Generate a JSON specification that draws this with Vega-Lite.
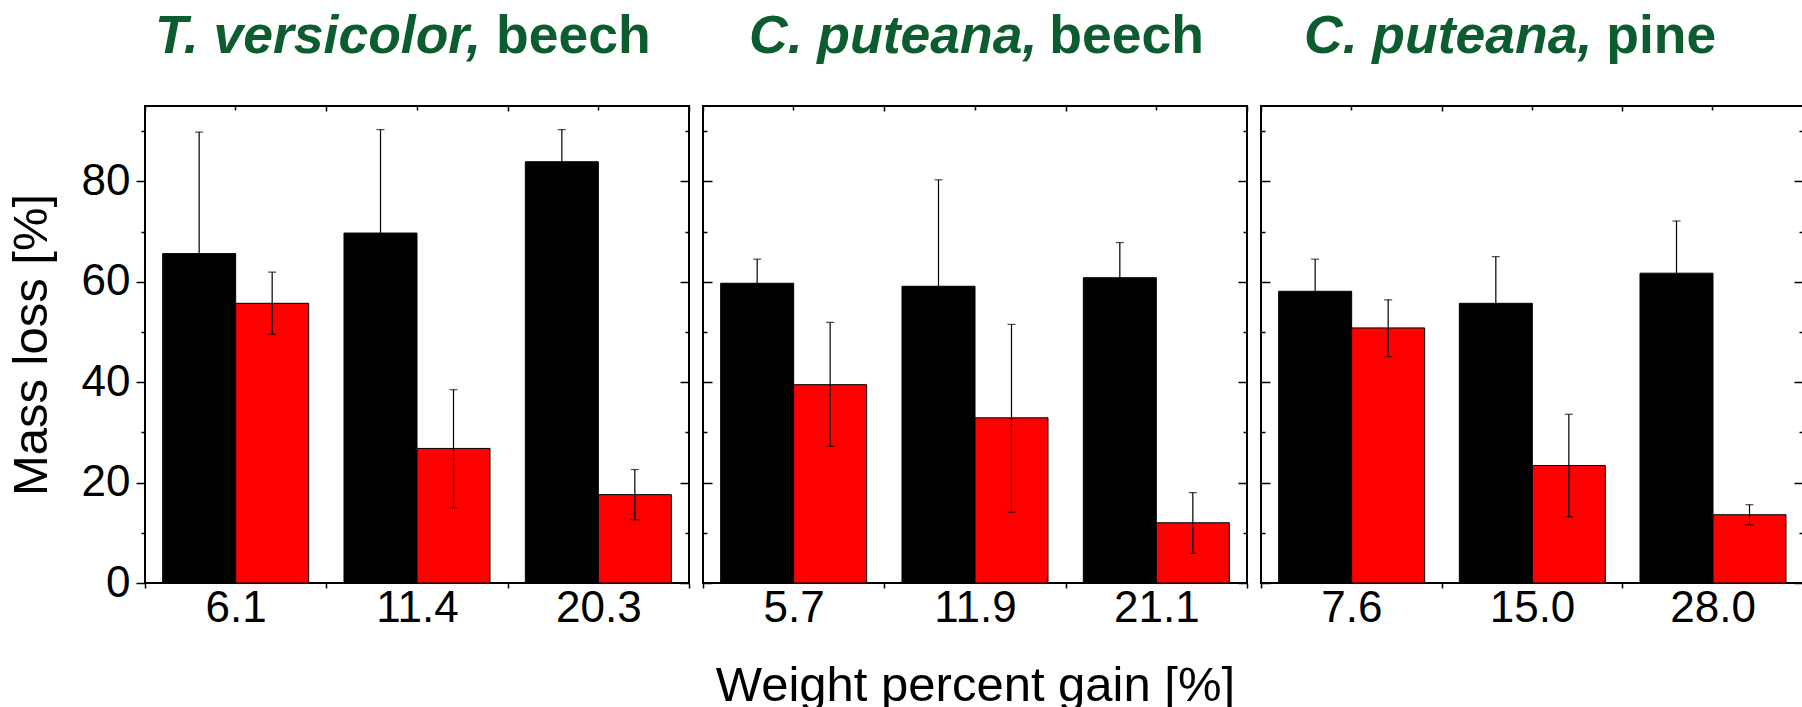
{
  "$schema": "https://vega.github.io/schema/vega-lite/v6.json",
  "padding": {"left": 6, "top": 8, "right": -1, "bottom": -4},
  "background": "white",
  "datasets": {
    "tv_beech": [
      {"wpg": "6.1", "sample": "control", "mass_loss": 65.6, "lo": 41.4, "hi": 89.8},
      {"wpg": "6.1", "sample": "treated", "mass_loss": 55.7, "lo": 49.5, "hi": 61.9},
      {"wpg": "11.4", "sample": "control", "mass_loss": 69.7, "lo": 49.1, "hi": 90.3},
      {"wpg": "11.4", "sample": "treated", "mass_loss": 26.8, "lo": 15.0, "hi": 38.5},
      {"wpg": "20.3", "sample": "control", "mass_loss": 83.9, "lo": 77.5, "hi": 90.3},
      {"wpg": "20.3", "sample": "treated", "mass_loss": 17.6, "lo": 12.6, "hi": 22.6}
    ],
    "cp_beech": [
      {"wpg": "5.7", "sample": "control", "mass_loss": 59.7, "lo": 54.9, "hi": 64.5},
      {"wpg": "5.7", "sample": "treated", "mass_loss": 39.5, "lo": 27.2, "hi": 51.9},
      {"wpg": "11.9", "sample": "control", "mass_loss": 59.1, "lo": 37.9, "hi": 80.3},
      {"wpg": "11.9", "sample": "treated", "mass_loss": 32.9, "lo": 14.1, "hi": 51.5},
      {"wpg": "21.1", "sample": "control", "mass_loss": 60.8, "lo": 53.8, "hi": 67.8},
      {"wpg": "21.1", "sample": "treated", "mass_loss": 12.0, "lo": 5.9, "hi": 18.0}
    ],
    "cp_pine": [
      {"wpg": "7.6", "sample": "control", "mass_loss": 58.1, "lo": 51.7, "hi": 64.5},
      {"wpg": "7.6", "sample": "treated", "mass_loss": 50.8, "lo": 45.1, "hi": 56.4},
      {"wpg": "15.0", "sample": "control", "mass_loss": 55.7, "lo": 46.4, "hi": 65.0},
      {"wpg": "15.0", "sample": "treated", "mass_loss": 23.4, "lo": 13.2, "hi": 33.6},
      {"wpg": "28.0", "sample": "control", "mass_loss": 61.7, "lo": 51.3, "hi": 72.1},
      {"wpg": "28.0", "sample": "treated", "mass_loss": 13.6, "lo": 11.6, "hi": 15.6}
    ]
  },
  "config": {
    "font": "Liberation Sans",
    "view": {"stroke": "#000000", "strokeWidth": 2},
    "concat": {"spacing": 10},
    "axis": {
      "labelColor": "#000000",
      "tickColor": "#000000",
      "titleColor": "#000000",
      "labelFont": "Liberation Sans",
      "titleFont": "Liberation Sans",
      "titleFontWeight": "normal",
      "titleFontSize": 49,
      "labelFontSize": 44,
      "tickWidth": 1.5,
      "domain": false,
      "grid": false,
      "minExtent": 0
    },
    "axisX": {"minExtent": 0},
    "axisY": {"minExtent": 0},
    "title": {"color": "#0b5c2e", "fontSize": 53.5, "fontWeight": "bold", "font": "Liberation Sans", "anchor": "start"}
  },
  "hconcat": [
    {
      "title": {"text": "beech", "dx": 490, "dy": 60, "fontStyle": "normal"},
      "hconcat": [
        {
          "title": {"text": "T. versicolor,", "dx": 10, "offset": 41, "frame": "group", "fontStyle": "italic"},
          "data": {"name": "tv_beech"},
          "width": 544,
          "height": 477,
          "layer": [
            {
              "mark": {"type": "bar", "stroke": "#000000", "strokeWidth": 1},
              "encoding": {
                "x": {"field": "wpg", "type": "ordinal", "sort": null,
                      "scale": {"paddingInner": 0, "paddingOuter": 0},
                      "axis": {"orient": "bottom", "title": null, "labelAngle": 0, "tickBand": "extent", "tickSize": 5, "labelPadding": -2}},
                "xOffset": {"field": "sample", "type": "nominal", "sort": ["control", "treated"],
                            "scale": {"paddingInner": 0, "paddingOuter": 0.242}},
                "y": {"field": "mass_loss", "type": "quantitative",
                      "scale": {"domain": [0, 95], "nice": false},
                      "axis": {"orient": "left", "title": "Mass loss [%]", "titlePadding": 25,
                               "values": [0, 10, 20, 30, 40, 50, 60, 70, 80, 90],
                               "labelExpr": "datum.value % 20 === 0 ? datum.label : ''",
                               "tickSize": {"condition": {"test": "datum.value % 20 === 0", "value": 9}, "value": 4},
                               "labelPadding": 6}},
                "color": {"field": "sample", "type": "nominal",
                          "scale": {"domain": ["control", "treated"], "range": ["#000000", "#ff0000"]},
                          "legend": null}
              }
            },
            {
              "mark": {"type": "rule", "color": "#000000", "strokeWidth": 1.2},
              "encoding": {
                "x": {"field": "wpg", "type": "ordinal", "sort": null,
                      "axis": {"orient": "top", "title": null, "labels": false, "tickBand": "extent", "tickSize": -5}},
                "xOffset": {"field": "sample", "type": "nominal", "sort": ["control", "treated"]},
                "y": {"field": "lo", "type": "quantitative",
                      "axis": {"orient": "right", "title": null, "labels": false,
                               "values": [0, 10, 20, 30, 40, 50, 60, 70, 80, 90],
                               "tickSize": {"condition": {"test": "datum.value % 20 === 0", "value": -9}, "value": -4}}},
                "y2": {"field": "hi"}
              }
            },
            {
              "mark": {"type": "tick", "color": "#000000", "size": 8, "thickness": 1.2},
              "encoding": {
                "x": {"field": "wpg", "type": "ordinal", "sort": null,
                      "axis": {"orient": "top", "title": null, "labels": false, "tickBand": "center", "tickSize": -4}},
                "xOffset": {"field": "sample", "type": "nominal", "sort": ["control", "treated"]},
                "y": {"field": "lo", "type": "quantitative", "axis": null}
              }
            },
            {
              "mark": {"type": "tick", "color": "#000000", "size": 8, "thickness": 1.2},
              "encoding": {
                "x": {"field": "wpg", "type": "ordinal", "sort": null, "axis": null},
                "xOffset": {"field": "sample", "type": "nominal", "sort": ["control", "treated"]},
                "y": {"field": "hi", "type": "quantitative", "axis": null}
              }
            }
          ],
          "resolve": {"axis": {"x": "independent", "y": "independent"}}
        }
      ]
    },
    {
      "title": {"text": "beech", "dx": 348, "dy": 60, "fontStyle": "normal"},
      "hconcat": [
        {
          "title": {"text": "C. puteana,", "dx": 46, "offset": 41, "frame": "group", "fontStyle": "italic"},
          "data": {"name": "cp_beech"},
          "width": 544,
          "height": 477,
          "layer": [
            {
              "mark": {"type": "bar", "stroke": "#000000", "strokeWidth": 1},
              "encoding": {
                "x": {"field": "wpg", "type": "ordinal", "sort": null,
                      "scale": {"paddingInner": 0, "paddingOuter": 0},
                      "axis": {"orient": "bottom", "title": "Weight percent gain [%]", "titlePadding": 31, "labelAngle": 0, "tickBand": "extent", "tickSize": 5, "labelPadding": -2}},
                "xOffset": {"field": "sample", "type": "nominal", "sort": ["control", "treated"],
                            "scale": {"paddingInner": 0, "paddingOuter": 0.242}},
                "y": {"field": "mass_loss", "type": "quantitative",
                      "scale": {"domain": [0, 95], "nice": false},
                      "axis": {"orient": "left", "title": null, "labels": false,
                               "values": [0, 10, 20, 30, 40, 50, 60, 70, 80, 90],
                               "tickSize": {"condition": {"test": "datum.value % 20 === 0", "value": -9}, "value": -4}}},
                "color": {"field": "sample", "type": "nominal",
                          "scale": {"domain": ["control", "treated"], "range": ["#000000", "#ff0000"]},
                          "legend": null}
              }
            },
            {
              "mark": {"type": "rule", "color": "#000000", "strokeWidth": 1.2},
              "encoding": {
                "x": {"field": "wpg", "type": "ordinal", "sort": null,
                      "axis": {"orient": "top", "title": null, "labels": false, "tickBand": "extent", "tickSize": -5}},
                "xOffset": {"field": "sample", "type": "nominal", "sort": ["control", "treated"]},
                "y": {"field": "lo", "type": "quantitative",
                      "axis": {"orient": "right", "title": null, "labels": false,
                               "values": [0, 10, 20, 30, 40, 50, 60, 70, 80, 90],
                               "tickSize": {"condition": {"test": "datum.value % 20 === 0", "value": -9}, "value": -4}}},
                "y2": {"field": "hi"}
              }
            },
            {
              "mark": {"type": "tick", "color": "#000000", "size": 8, "thickness": 1.2},
              "encoding": {
                "x": {"field": "wpg", "type": "ordinal", "sort": null,
                      "axis": {"orient": "top", "title": null, "labels": false, "tickBand": "center", "tickSize": -4}},
                "xOffset": {"field": "sample", "type": "nominal", "sort": ["control", "treated"]},
                "y": {"field": "lo", "type": "quantitative", "axis": null}
              }
            },
            {
              "mark": {"type": "tick", "color": "#000000", "size": 8, "thickness": 1.2},
              "encoding": {
                "x": {"field": "wpg", "type": "ordinal", "sort": null, "axis": null},
                "xOffset": {"field": "sample", "type": "nominal", "sort": ["control", "treated"]},
                "y": {"field": "hi", "type": "quantitative", "axis": null}
              }
            }
          ],
          "resolve": {"axis": {"x": "independent", "y": "independent"}}
        }
      ]
    },
    {
      "title": {"text": "pine", "dx": 347, "dy": 60, "fontStyle": "normal"},
      "hconcat": [
        {
          "title": {"text": "C. puteana,", "dx": 43, "offset": 41, "frame": "group", "fontStyle": "italic"},
          "data": {"name": "cp_pine"},
          "width": 542,
          "height": 477,
          "layer": [
            {
              "mark": {"type": "bar", "stroke": "#000000", "strokeWidth": 1},
              "encoding": {
                "x": {"field": "wpg", "type": "ordinal", "sort": null,
                      "scale": {"paddingInner": 0, "paddingOuter": 0},
                      "axis": {"orient": "bottom", "title": null, "labelAngle": 0, "tickBand": "extent", "tickSize": 5, "labelPadding": -2}},
                "xOffset": {"field": "sample", "type": "nominal", "sort": ["control", "treated"],
                            "scale": {"paddingInner": 0, "paddingOuter": 0.242}},
                "y": {"field": "mass_loss", "type": "quantitative",
                      "scale": {"domain": [0, 95], "nice": false},
                      "axis": {"orient": "left", "title": null, "labels": false,
                               "values": [0, 10, 20, 30, 40, 50, 60, 70, 80, 90],
                               "tickSize": {"condition": {"test": "datum.value % 20 === 0", "value": -9}, "value": -4}}},
                "color": {"field": "sample", "type": "nominal",
                          "scale": {"domain": ["control", "treated"], "range": ["#000000", "#ff0000"]},
                          "legend": null}
              }
            },
            {
              "mark": {"type": "rule", "color": "#000000", "strokeWidth": 1.2},
              "encoding": {
                "x": {"field": "wpg", "type": "ordinal", "sort": null,
                      "axis": {"orient": "top", "title": null, "labels": false, "tickBand": "extent", "tickSize": -5}},
                "xOffset": {"field": "sample", "type": "nominal", "sort": ["control", "treated"]},
                "y": {"field": "lo", "type": "quantitative",
                      "axis": {"orient": "right", "title": null, "labels": false,
                               "values": [0, 10, 20, 30, 40, 50, 60, 70, 80, 90],
                               "tickSize": {"condition": {"test": "datum.value % 20 === 0", "value": -9}, "value": -4}}},
                "y2": {"field": "hi"}
              }
            },
            {
              "mark": {"type": "tick", "color": "#000000", "size": 8, "thickness": 1.2},
              "encoding": {
                "x": {"field": "wpg", "type": "ordinal", "sort": null,
                      "axis": {"orient": "top", "title": null, "labels": false, "tickBand": "center", "tickSize": -4}},
                "xOffset": {"field": "sample", "type": "nominal", "sort": ["control", "treated"]},
                "y": {"field": "lo", "type": "quantitative", "axis": null}
              }
            },
            {
              "mark": {"type": "tick", "color": "#000000", "size": 8, "thickness": 1.2},
              "encoding": {
                "x": {"field": "wpg", "type": "ordinal", "sort": null, "axis": null},
                "xOffset": {"field": "sample", "type": "nominal", "sort": ["control", "treated"]},
                "y": {"field": "hi", "type": "quantitative", "axis": null}
              }
            }
          ],
          "resolve": {"axis": {"x": "independent", "y": "independent"}}
        }
      ]
    }
  ]
}
